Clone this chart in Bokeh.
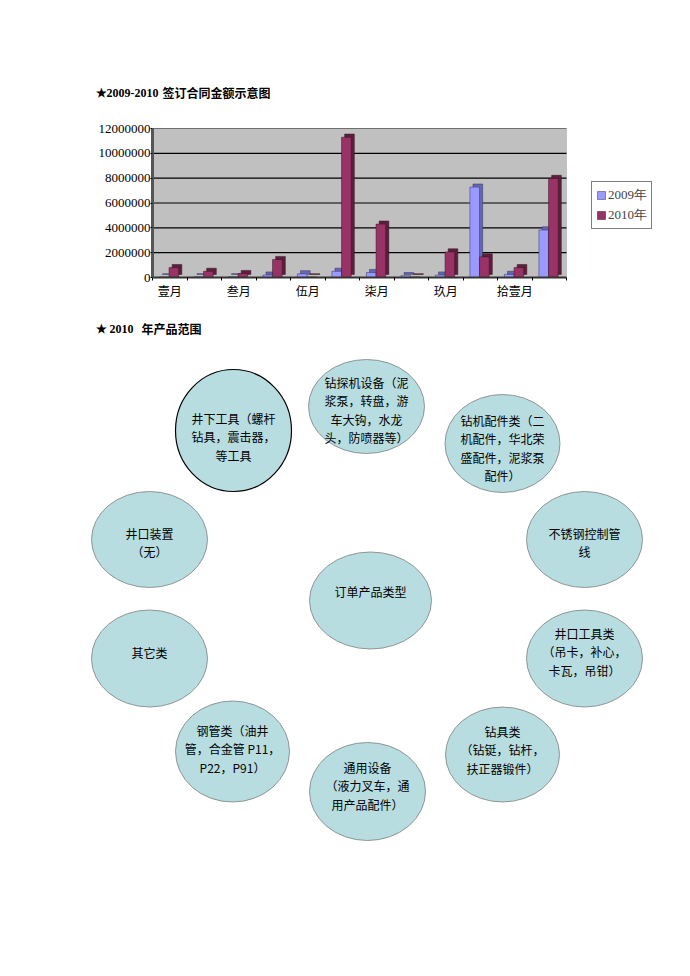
from bokeh.plotting import figure
from bokeh.models import (Range1d, FixedTicker, NumeralTickFormatter, Legend,
                          LegendItem, ColumnDataSource, BoxAnnotation)
from bokeh.transform import dodge
from bokeh.embed import file_html
from bokeh.resources import INLINE
from bokeh.core.properties import value

# ---------------- data ----------------
months = ["壹月", "贰月", "叁月", "肆月", "伍月", "陆月",
          "柒月", "捌月", "玖月", "拾月", "拾壹月", "拾贰月"]
amount_2009 = [50000, 60000, 60000, 200000, 300000, 500000,
               400000, 150000, 200000, 7280000, 250000, 3830000]
amount_2010 = [800000, 500000, 320000, 1450000, 50000, 11300000,
               4300000, 50000, 2060000, 1660000, 800000, 7980000]
series_names = ["2009年", "2010年"]
y_ticks = [0, 2000000, 4000000, 6000000, 8000000, 10000000, 12000000]

title1 = "签订合同金额示意图"
title1_prefix = "★2009-2010"
title2_prefix = "★  2010"
title2 = "年产品范围"

center_label = ["订单产品类型"]
product_labels = [
    ["钻探机设备（泥", "浆泵，转盘，游", "车大钩，水龙", "头，防喷器等）"],
    ["钻机配件类（二", "机配件，华北荣", "盛配件，泥浆泵", "配件）"],
    ["井下工具（螺杆", "钻具，震击器，", "等工具"],
    ["井口装置", "（无）"],
    ["其它类"],
    ["不锈钢控制管", "线"],
    ["井口工具类", "（吊卡，补心，", "卡瓦，吊钳）"],
    ["钢管类（油井", "管，合金管 P11，", "P22，P91）"],
    ["通用设备", "（液力叉车，通", "用产品配件）"],
    ["钻具类", "（钻铤，钻杆，", "扶正器锻件）"],
]

CJK = "Noto Sans CJK SC"
SERIF = "Liberation Serif"

# ---------------- header figure (page coordinates) ----------------
def blank(h, y_top, y_bottom):
    f = figure(width=674, height=h, x_range=Range1d(0, 674),
               y_range=Range1d(y_bottom, y_top), x_axis_type=None,
               y_axis_type=None, toolbar_location=None, output_backend="svg",
               min_border=0)
    f.grid.visible = False
    f.outline_line_color = None
    return f

head = blank(110, 0, 110)
head.text(x=[95], y=[92], text=[title1_prefix], text_font=value(SERIF),
          text_font_style="bold", text_font_size="12px",
          text_baseline="middle", text_align="left", text_color="black")
head.text(x=[162], y=[92], text=[title1], text_font=value(CJK),
          text_font_style="bold", text_font_size="12px",
          text_baseline="middle", text_align="left", text_color="black")

# ---------------- bar chart ----------------
n = len(months)
xs = list(range(1, n + 1))
y_max = y_ticks[-1]
depth_y = 250000
src = ColumnDataSource(dict(
    x=xs,
    v09=amount_2009, v10=amount_2010,
    v09d=[v + depth_y for v in amount_2009],
    v10d=[v + depth_y for v in amount_2010],
    dy=[depth_y] * n,
))

plot_px = 414          # width of the grey plotting wall
extra_px = 108         # room to the right for the legend
x_lo, x_hi = 0.5, n + 0.5
x_extra = (x_hi - x_lo) * extra_px / plot_px

p = figure(width=674, height=200, x_range=Range1d(x_lo, x_hi + x_extra),
           y_range=Range1d(0, y_max), toolbar_location=None,
           output_backend="svg", min_border_left=152, min_border_right=0,
           min_border_top=18, min_border_bottom=33)
p.border_fill_color = "white"
p.background_fill_color = "white"
p.outline_line_color = None
p.grid.visible = False

wall = BoxAnnotation(left=x_lo, right=x_hi, bottom=0, top=y_max,
                     fill_color="#C0C0C0", fill_alpha=1,
                     line_color="#808080", line_width=1, level="underlay")
p.add_layout(wall)
p.segment(x0=[x_lo] * len(y_ticks), x1=[x_hi] * len(y_ticks),
          y0=y_ticks, y1=y_ticks, line_color="black", line_width=1.2)

w = 0.28
dx = 0.09
off09, off10 = -0.16, 0.12
p.vbar(x=dodge("x", off09 + dx), top="v09d", bottom="dy", width=w,
       source=src, fill_color="#6666B8", line_color="#333355", line_width=0.5)
r09 = p.vbar(x=dodge("x", off09), top="v09", bottom=0, width=w, source=src,
             fill_color="#9999FF", line_color="#333366", line_width=0.5)
p.vbar(x=dodge("x", off10 + dx), top="v10d", bottom="dy", width=w,
       source=src, fill_color="#5E1F3E", line_color="#33111f", line_width=0.5)
r10 = p.vbar(x=dodge("x", off10), top="v10", bottom=0, width=w, source=src,
             fill_color="#993366", line_color="#33111f", line_width=0.5)

p.xaxis.bounds = (x_lo, x_hi)
p.xaxis.ticker = FixedTicker(ticks=xs[::2],
                             minor_ticks=[x + 0.5 for x in [0] + xs])
p.xaxis.major_label_overrides = {x: months[x - 1] for x in xs[::2]}
p.xaxis.major_tick_out = 0
p.xaxis.major_tick_in = 0
p.xaxis.minor_tick_out = 3
p.xaxis.minor_tick_in = 0
p.xaxis.axis_line_color = "#333333"
p.xaxis.axis_line_width = 2
p.xaxis.major_label_text_font = CJK
p.xaxis.major_label_text_font_size = "12px"
p.xaxis.major_label_text_color = "black"
p.xaxis.major_label_standoff = 1

p.yaxis.ticker = FixedTicker(ticks=y_ticks, minor_ticks=[])
p.yaxis.formatter = NumeralTickFormatter(format="0")
p.yaxis.axis_line_color = "#555555"
p.yaxis.axis_line_width = 3
p.yaxis.major_tick_out = 2
p.yaxis.major_tick_in = 0
p.yaxis.major_label_standoff = 0
p.yaxis.major_label_text_font = SERIF
p.yaxis.major_label_text_font_size = "13px"
p.yaxis.major_label_text_color = "black"

legend = Legend(items=[LegendItem(label=series_names[0], renderers=[r09]),
                       LegendItem(label=series_names[1], renderers=[r10])],
                location=(plot_px + 25, 48), margin=0, padding=4, spacing=2,
                glyph_width=10, glyph_height=10, label_standoff=2,
                label_text_font=SERIF, label_text_font_size="13px",
                label_height=15, border_line_color="black",
                border_line_width=1, background_fill_alpha=1)
p.add_layout(legend, "center")

# ---------------- bubble diagram (page coordinates) ----------------
q = blank(658, 310, 968)
q.text(x=[95], y=[328], text=[title2_prefix], text_font=value(SERIF),
       text_font_style="bold", text_font_size="12px",
       text_baseline="middle", text_align="left", text_color="black")
q.text(x=[141], y=[328], text=[title2], text_font=value(CJK),
       text_font_style="bold", text_font_size="12px",
       text_baseline="middle", text_align="left", text_color="black")

# ellipse layout: (cx, cy, w, h, first line y)
bubble_layout = [
    (366, 406, 116, 94, 382),
    (502, 443, 115, 98, 420),
    (233, 430, 116, 122, 418),
    (149, 539, 116, 96, 533),
    (149, 658, 116, 97, 652),
    (584, 539, 116, 96, 533),
    (584, 658, 116, 97, 633),
    (232, 751, 114, 101, 730),
    (367, 791, 116, 98, 767),
    (502, 754, 114, 95, 731),
]
center_layout = (370, 600, 122, 97, 591)

ex = [b[0] for b in bubble_layout] + [center_layout[0]]
ey = [b[1] for b in bubble_layout] + [center_layout[1]]
ew = [b[2] for b in bubble_layout] + [center_layout[2]]
eh = [b[3] for b in bubble_layout] + [center_layout[3]]
elc = ["#7F7F7F"] * len(ex)
elc[2] = "black"
elw = [0.8] * len(ex)
elw[2] = 1.2
q.ellipse(x=ex, y=ey, width=ew, height=eh, fill_color="#B7DDE0",
          line_color=elc, line_width=elw)

tx, ty, tt = [], [], []
for (cx, cy, bw, bh, y0), lines in zip(bubble_layout + [center_layout],
                                        product_labels + [center_label]):
    for i, s in enumerate(lines):
        tx.append(cx)
        ty.append(y0 + 18.3 * i)
        tt.append(s)
q.text(x=tx, y=ty, text=tt, text_font=value(CJK), text_font_size="12px",
       text_align="center", text_baseline="middle", text_color="black")

open("out.html", "w").write(file_html([head, p, q], INLINE))
